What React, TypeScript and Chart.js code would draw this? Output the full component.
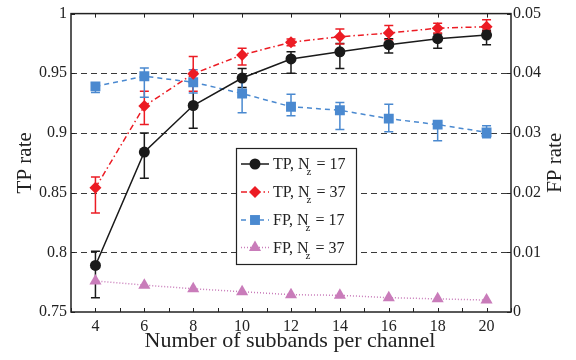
import { useEffect, useRef } from "react";
import { Chart, registerables } from "chart.js";

Chart.register(...registerables);

const xValues = [4, 6, 8, 10, 12, 14, 16, 18, 20];
const xTicks = [4, 6, 8, 10, 12, 14, 16, 18, 20];
const yTicks = [0.75, 0.8, 0.85, 0.9, 0.95, 1];
const yTickLabels = ["0.75", "0.8", "0.85", "0.9", "0.95", "1"];
const y1Ticks = [0, 0.01, 0.02, 0.03, 0.04, 0.05];
const y1TickLabels = ["0", "0.01", "0.02", "0.03", "0.04", "0.05"];
const gridValues = [0.8, 0.85, 0.9, 0.95];

const tp17 = [0.789, 0.884, 0.923, 0.946, 0.962, 0.968, 0.974, 0.979, 0.982];
const tp17Low = [0.762, 0.862, 0.904, 0.938, 0.95, 0.954, 0.967, 0.971, 0.974];
const tp17High = [0.801, 0.9, 0.942, 0.954, 0.968, 0.975, 0.979, 0.983, 0.986];

const tp37 = [0.854, 0.9225, 0.9496, 0.9654, 0.976, 0.9806, 0.9837, 0.9878, 0.989];
const tp37Low = [0.833, 0.907, 0.935, 0.957, 0.973, 0.9745, 0.978, 0.9837, 0.985];
const tp37High = [0.863, 0.935, 0.964, 0.971, 0.9787, 0.987, 0.99, 0.992, 0.9948];

const fp17 = [0.0378, 0.0395, 0.0385, 0.0366, 0.0344, 0.0338, 0.0324, 0.0314, 0.0301];
const fp17Low = [0.0368, 0.036, 0.0367, 0.0334, 0.0329, 0.0306, 0.0302, 0.0287, 0.0292];
const fp17High = [0.0384, 0.0409, 0.0406, 0.0394, 0.0365, 0.0351, 0.0348, 0.0318, 0.0312];

const fp37 = [0.0052, 0.0045, 0.0039, 0.0034, 0.0029, 0.0028, 0.0024, 0.0022, 0.002];

const BLACK = "#1a1a1a";
const RED = "#ec1c24";
const BLUE = "#4a89d0";
const PINK = "#c97cba";
const SERIF = "'Liberation Serif', 'DejaVu Serif', serif";

const legendItems = [
  { main: "TP, N", sub: "z", rest: " = 17", color: BLACK, dash: [] as number[], style: "circle", r: 5.5 },
  { main: "TP, N", sub: "z", rest: " = 37", color: RED, dash: [6, 3, 1.5, 3], style: "rectRot", r: 6 },
  { main: "FP, N", sub: "z", rest: " = 17", color: BLUE, dash: [5, 4], style: "rect", r: 7 },
  { main: "FP, N", sub: "z", rest: " = 37", color: PINK, dash: [1, 2], style: "triangle", r: 7 },
];

const errorSets = [
  { axis: "y", low: tp17Low, high: tp17High, color: BLACK },
  { axis: "y", low: tp37Low, high: tp37High, color: RED },
  { axis: "y1", low: fp17Low, high: fp17High, color: BLUE },
];

const pts = (ys: number[]) => xValues.map((x, i) => ({ x, y: ys[i] }));

function drawMarker(ctx: CanvasRenderingContext2D, style: string, x: number, y: number, r: number, color: string) {
  ctx.save();
  ctx.fillStyle = color;
  ctx.beginPath();
  if (style === "circle") {
    ctx.arc(x, y, r, 0, Math.PI * 2);
  } else if (style === "rectRot") {
    ctx.moveTo(x - r, y);
    ctx.lineTo(x, y - r);
    ctx.lineTo(x + r, y);
    ctx.lineTo(x, y + r);
    ctx.closePath();
  } else if (style === "rect") {
    const s = r * Math.SQRT1_2;
    ctx.rect(x - s, y - s, 2 * s, 2 * s);
  } else {
    const a = (2 * Math.PI) / 3;
    ctx.moveTo(x, y - r);
    ctx.lineTo(x + Math.sin(a) * r, y - Math.cos(a) * r);
    ctx.lineTo(x + Math.sin(2 * a) * r, y - Math.cos(2 * a) * r);
    ctx.closePath();
  }
  ctx.fill();
  ctx.restore();
}

const customPlugin = {
  id: "custom",
  beforeDatasetsDraw(chart: any) {
    const { ctx, chartArea: a, scales } = chart;
    const ys = scales.y;
    ctx.save();
    ctx.strokeStyle = "#3a3a3a";
    ctx.lineWidth = 1;
    ctx.setLineDash([6, 4]);
    for (const v of gridValues) {
      const py = Math.round(ys.getPixelForValue(v)) + 0.5;
      ctx.beginPath();
      ctx.moveTo(a.left, py);
      ctx.lineTo(a.right, py);
      ctx.stroke();
    }
    ctx.setLineDash([]);
    ctx.lineWidth = 1.5;
    for (const es of errorSets) {
      const sc = scales[es.axis];
      ctx.strokeStyle = es.color;
      xValues.forEach((x, i) => {
        const px = scales.x.getPixelForValue(x);
        const pl = sc.getPixelForValue(es.low[i]);
        const ph = sc.getPixelForValue(es.high[i]);
        const cw = 4.5;
        ctx.beginPath();
        ctx.moveTo(px, pl);
        ctx.lineTo(px, ph);
        ctx.moveTo(px - cw, pl);
        ctx.lineTo(px + cw, pl);
        ctx.moveTo(px - cw, ph);
        ctx.lineTo(px + cw, ph);
        ctx.stroke();
      });
    }
    ctx.restore();
  },
  afterDraw(chart: any) {
    const { ctx, chartArea: a, scales } = chart;
    ctx.save();
    ctx.strokeStyle = "#222";
    ctx.lineWidth = 1.5;
    ctx.setLineDash([]);
    ctx.strokeRect(a.left, a.top, a.right - a.left, a.bottom - a.top);
    ctx.lineWidth = 1;
    ctx.beginPath();
    for (let v = 3; v <= 21; v++) {
      const px = Math.round(scales.x.getPixelForValue(v)) + 0.5;
      ctx.moveTo(px, a.bottom);
      ctx.lineTo(px, a.bottom - 4);
    }
    for (const v of xTicks) {
      const px = Math.round(scales.x.getPixelForValue(v)) + 0.5;
      ctx.moveTo(px, a.top);
      ctx.lineTo(px, a.top + 4);
    }
    for (const v of yTicks) {
      const py = Math.round(scales.y.getPixelForValue(v)) + 0.5;
      ctx.moveTo(a.left, py);
      ctx.lineTo(a.left + 4, py);
    }
    for (const v of y1Ticks) {
      const py = Math.round(scales.y1.getPixelForValue(v)) + 0.5;
      ctx.moveTo(a.right, py);
      ctx.lineTo(a.right - 4, py);
    }
    ctx.stroke();

    ctx.fillStyle = "#222";
    ctx.font = `22px ${SERIF}`;
    ctx.textAlign = "center";
    ctx.textBaseline = "alphabetic";
    ctx.fillText("Number of subbands per channel", 290, 347);
    const cy = (a.top + a.bottom) / 2;
    ctx.font = `21px ${SERIF}`;
    ctx.save();
    ctx.translate(31, cy);
    ctx.rotate(-Math.PI / 2);
    ctx.fillText("TP rate", 0, 0);
    ctx.restore();
    ctx.save();
    ctx.translate(561, cy);
    ctx.rotate(-Math.PI / 2);
    ctx.fillText("FP rate", 0, 0);
    ctx.restore();

    const bx = 236, by = 148, bw = 120, bh = 116;
    ctx.fillStyle = "#ffffff";
    ctx.fillRect(bx, by, bw, bh);
    ctx.strokeStyle = "#222";
    ctx.lineWidth = 1.2;
    ctx.strokeRect(bx + 0.5, by + 0.5, bw, bh);
    const rows = [164, 192, 220, 247.5];
    legendItems.forEach((it, i) => {
      const yc = rows[i];
      ctx.save();
      ctx.strokeStyle = it.color;
      ctx.lineWidth = 1.5;
      ctx.setLineDash(it.dash);
      ctx.beginPath();
      ctx.moveTo(241, yc);
      ctx.lineTo(269, yc);
      ctx.stroke();
      ctx.restore();
      drawMarker(ctx, it.style, 255, yc, it.r, it.color);
      ctx.fillStyle = "#222";
      ctx.textAlign = "left";
      ctx.font = `16px ${SERIF}`;
      const tx = 273;
      ctx.fillText(it.main, tx, yc + 5);
      const w1 = ctx.measureText(it.main).width;
      ctx.font = `11px ${SERIF}`;
      ctx.fillText(it.sub, tx + w1 - 3, yc + 11);
      ctx.font = `16px ${SERIF}`;
      ctx.fillText(it.rest, tx + w1 + 3, yc + 5);
    });
    ctx.restore();
  },
};

export default function App() {
  const ref = useRef<HTMLCanvasElement>(null);
  useEffect(() => {
    if (!ref.current) return;
    const chart = new Chart(ref.current, {
      type: "line",
      data: {
        datasets: [
          {
            label: "TP, Nz = 17",
            data: pts(tp17),
            yAxisID: "y",
            borderColor: BLACK,
            backgroundColor: BLACK,
            borderWidth: 1.5,
            pointStyle: "circle",
            pointRadius: 5.5,
            pointBorderWidth: 0,
            tension: 0,
          },
          {
            label: "TP, Nz = 37",
            data: pts(tp37),
            yAxisID: "y",
            borderColor: RED,
            backgroundColor: RED,
            borderWidth: 1.5,
            borderDash: [6, 3, 1.5, 3],
            pointStyle: "rectRot",
            pointRadius: 6,
            pointBorderWidth: 0,
            tension: 0,
          },
          {
            label: "FP, Nz = 17",
            data: pts(fp17),
            yAxisID: "y1",
            borderColor: BLUE,
            backgroundColor: BLUE,
            borderWidth: 1.5,
            borderDash: [5, 4],
            pointStyle: "rect",
            pointRadius: 7,
            pointBorderWidth: 0,
            tension: 0,
          },
          {
            label: "FP, Nz = 37",
            data: pts(fp37),
            yAxisID: "y1",
            borderColor: PINK,
            backgroundColor: PINK,
            borderWidth: 1.5,
            borderDash: [1, 2],
            pointStyle: "triangle",
            pointRadius: 7,
            pointBorderWidth: 0,
            tension: 0,
          },
        ],
      },
      options: {
        animation: false,
        responsive: false,
        maintainAspectRatio: false,
        layout: { padding: { top: 11, left: 0, right: 0, bottom: 0 } },
        plugins: { legend: { display: false }, tooltip: { enabled: false } },
        scales: {
          x: {
            type: "linear",
            min: 3,
            max: 21,
            grid: { display: false, drawTicks: false },
            border: { display: false },
            afterBuildTicks: (s: any) => {
              s.ticks = xTicks.map((v) => ({ value: v }));
            },
            afterFit: (s: any) => {
              s.height = 48;
            },
            ticks: {
              padding: 5,
              color: "#222",
              font: { family: SERIF, size: 16 },
              callback: (v: any) => String(v),
            },
          },
          y: {
            type: "linear",
            position: "left",
            min: 0.75,
            max: 1,
            grid: { display: false, drawTicks: false },
            border: { display: false },
            afterBuildTicks: (s: any) => {
              s.ticks = yTicks.map((v) => ({ value: v }));
            },
            afterFit: (s: any) => {
              s.width = 71;
            },
            ticks: {
              padding: 4,
              color: "#222",
              font: { family: SERIF, size: 16 },
              callback: (v: any) => {
                const i = yTicks.findIndex((t) => Math.abs(t - v) < 1e-9);
                return i >= 0 ? yTickLabels[i] : "";
              },
            },
          },
          y1: {
            type: "linear",
            position: "right",
            min: 0,
            max: 0.05,
            grid: { display: false, drawTicks: false },
            border: { display: false },
            afterBuildTicks: (s: any) => {
              s.ticks = y1Ticks.map((v) => ({ value: v }));
            },
            afterFit: (s: any) => {
              s.width = 65;
            },
            ticks: {
              padding: 2,
              color: "#222",
              font: { family: SERIF, size: 16 },
              callback: (v: any) => {
                const i = y1Ticks.findIndex((t) => Math.abs(t - v) < 1e-9);
                return i >= 0 ? y1TickLabels[i] : "";
              },
            },
          },
        },
      },
      plugins: [customPlugin],
    });
    return () => chart.destroy();
  }, []);
  return (
    <div style={{ position: "fixed", left: 0, top: 0, width: 576, height: 360, background: "#fff" }}>
      <canvas ref={ref} width={576} height={360} style={{ width: 576, height: 360 }} />
    </div>
  );
}
